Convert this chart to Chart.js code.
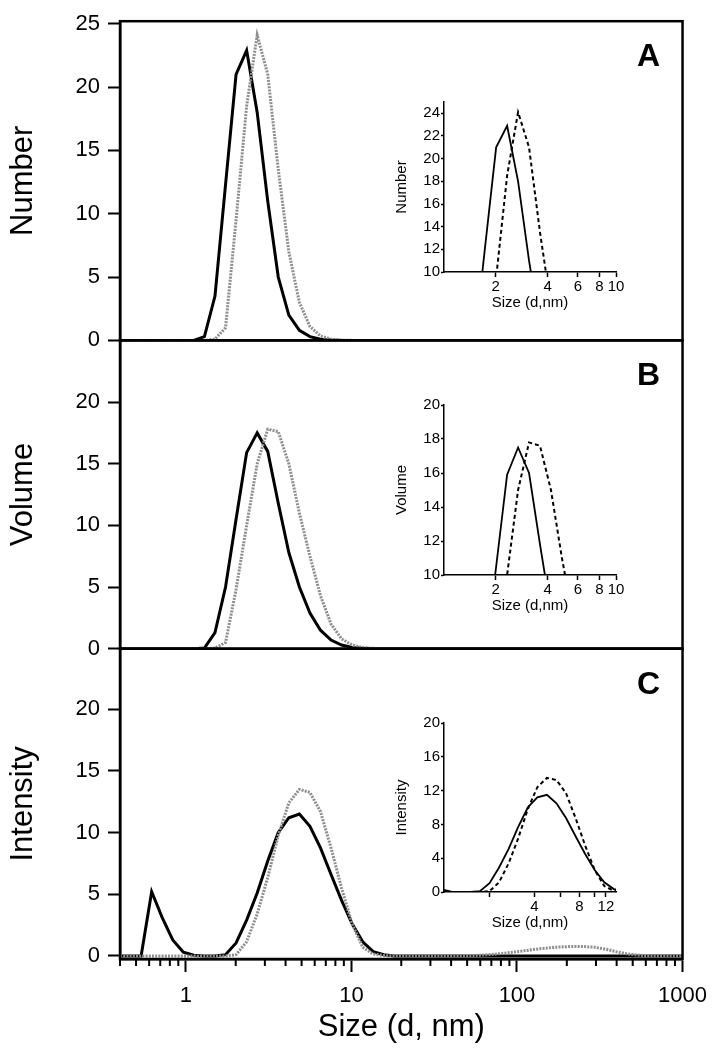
<!DOCTYPE html>
<html>
<head>
<meta charset="utf-8">
<script src="https://cdn.jsdelivr.net/npm/chart.js@4.4.1/dist/chart.umd.min.js"></script>
<style>
  body { margin: 0; background: #fff; }
  #wrap { position: relative; width: 718px; height: 1050px; }
  #wrap canvas { position: absolute; }
</style>
</head>
<body>
<div id="wrap">
  <canvas id="mainChart" width="718" height="1050" style="left:0;top:0"></canvas>
  <canvas id="insetA" width="242" height="226" style="left:384px;top:92px"></canvas>
  <canvas id="insetB" width="242" height="226" style="left:384px;top:395px"></canvas>
  <canvas id="insetC" width="242" height="225" style="left:384px;top:713px"></canvas>
</div>
<script>
// Size bins (d, nm)
const sizes = [
  0.4, 0.4632, 0.5365, 0.6213, 0.7195, 0.8332, 0.9649, 1.117, 1.294, 1.499,
  1.736, 2.01, 2.328, 2.696, 3.122, 3.615, 4.187, 4.849, 5.615, 6.503,
  7.531, 8.721, 10.1, 11.7, 13.54, 15.69, 18.17, 21.04, 24.36, 28.21,
  32.67, 37.84, 43.82, 50.75, 58.77, 68.06, 78.82, 91.28, 105.7, 122.4,
  141.8, 164.2, 190.1, 220.2, 255, 295.3, 342, 396.1, 458.7, 531.2,
  615.1, 712.4, 825, 955.4, 1106
];

// Panel A - Number
const numberSolid = [
  0, 0, 0, 0, 0, 0, 0, 0, 0.3, 3.5,
  12.3, 21.0, 22.9, 18.0, 11.0, 5.0, 2.0, 0.8, 0.3, 0.1,
  0.03, 0, 0, 0, 0, 0, 0, 0, 0, 0,
  0, 0, 0, 0, 0, 0, 0, 0, 0, 0,
  0, 0, 0, 0, 0, 0, 0, 0, 0, 0,
  0, 0, 0, 0, 0
];
const numberDotted = [
  0, 0, 0, 0, 0, 0, 0, 0, 0, 0.1,
  1.0, 9.5, 18.5, 24.1, 21.0, 13.5, 7.0, 3.0, 1.1, 0.35,
  0.1, 0.03, 0, 0, 0, 0, 0, 0, 0, 0,
  0, 0, 0, 0, 0, 0, 0, 0, 0, 0,
  0, 0, 0, 0, 0, 0, 0, 0, 0, 0,
  0, 0, 0, 0, 0
];

// Panel B - Volume
const volumeSolid = [
  0, 0, 0, 0, 0, 0, 0, 0, 0.05, 1.3,
  5.0, 10.5, 15.9, 17.5, 16.0, 11.8, 7.8, 5.0, 2.9, 1.5,
  0.7, 0.3, 0.1, 0.03, 0, 0, 0, 0, 0, 0,
  0, 0, 0, 0, 0, 0, 0, 0, 0, 0,
  0, 0, 0, 0, 0, 0, 0, 0, 0, 0,
  0, 0, 0, 0, 0
];
const volumeDotted = [
  0, 0, 0, 0, 0, 0, 0, 0, 0, 0.05,
  0.5, 4.8, 10.0, 15.0, 17.8, 17.6, 15.0, 11.0, 7.5, 4.3,
  2.0, 0.8, 0.3, 0.1, 0.03, 0, 0, 0, 0, 0,
  0, 0, 0, 0, 0, 0, 0, 0, 0, 0,
  0, 0, 0, 0, 0, 0, 0, 0, 0, 0,
  0, 0, 0, 0, 0
];

// Panel C - Intensity
const intensitySolid = [
  0, 0, 0, 5.2, 3.1, 1.3, 0.3, 0.05, 0, 0,
  0.1, 1.05, 2.9, 5.1, 7.7, 10.0, 11.2, 11.5, 10.5, 8.75,
  6.6, 4.5, 2.6, 1.15, 0.35, 0.1, 0, 0, 0, 0,
  0, 0, 0, 0, 0, 0, 0, 0, 0, 0,
  0, 0, 0, 0, 0, 0, 0, 0, 0, 0,
  0, 0, 0, 0, 0
];
const intensityDotted = [
  0, 0, 0, 0, 0, 0, 0, 0, 0, 0,
  0, 0.1, 1.15, 3.4, 6.35, 9.8, 12.4, 13.5, 13.25, 11.7,
  8.75, 5.5, 2.6, 0.7, 0.15, 0.03, 0, 0, 0, 0,
  0, 0, 0, 0.02, 0.05, 0.1, 0.18, 0.28, 0.38, 0.5,
  0.6, 0.68, 0.74, 0.77, 0.76, 0.7, 0.55, 0.35, 0.18, 0.07,
  0.02, 0, 0, 0, 0
];

// Ticks
const mainXTicks = [1, 10, 100, 1000];
const mainXMinorTicks = [
  0.4, 0.5, 0.6, 0.7, 0.8, 0.9,
  2, 3, 4, 5, 6, 7, 8, 9,
  20, 30, 40, 50, 60, 70, 80, 90,
  200, 300, 400, 500, 600, 700, 800, 900
];
const numberTicks = [0, 5, 10, 15, 20, 25];
const volumeTicks = [0, 5, 10, 15, 20];
const intensityTicks = [0, 5, 10, 15, 20];
const panelLetters = ["A", "B", "C"];

const insetXTicksAB = [2, 4, 6, 8, 10];
const insetXTicksC = [2, 4, 6, 8, 10, 12];
const insetXLabelsC = [4, 8, 12];
const insetYTicksA = [10, 12, 14, 16, 18, 20, 22, 24];
const insetYTicksB = [10, 12, 14, 16, 18, 20];
const insetYTicksC = [0, 2, 4, 6, 8, 10, 12, 14, 16, 18, 20];
const insetYLabelsC = [0, 4, 8, 12, 16, 20];

const FONT = "'Liberation Sans', Arial, Helvetica, sans-serif";
Chart.defaults.font.family = FONT;
Chart.defaults.color = "#000";

function toPoints(values) {
  return sizes.map((x, i) => ({ x: x, y: values[i] }));
}

// Linha do gráfico principal
function mainLine(values, yAxisID, dotted) {
  return {
    data: toPoints(values),
    yAxisID: yAxisID,
    borderColor: dotted ? "#8e8e8e" : "#000",
    borderWidth: 3,
    borderDash: dotted ? [2, 1.2] : [],
    pointRadius: 0,
    tension: 0,
    fill: false,
  };
}

function panelAxis(title, min, max, ticks, weight) {
  return {
    type: "linear",
    position: "left",
    stack: "panels",
    stackWeight: weight,
    min: min,
    max: max,
    afterBuildTicks: (s) => {
      s.ticks = ticks.map((v) => ({ value: v }));
    },
    afterFit: (s) => {
      s.width = 120;
    },
    border: { display: true, color: "#000", width: 2.5 },
    grid: { drawOnChartArea: false, tickLength: 12, tickWidth: 2, tickColor: "#000" },
    ticks: { padding: 8, font: { size: 22 }, color: "#000" },
    title: { display: true, text: title, font: { size: 31 }, padding: { top: 5, bottom: 0 } },
  };
}

// Molduras dos painéis, letras e ticks menores do eixo x
const panelFrames = {
  id: "panelFrames",
  afterDraw(chart) {
    const { ctx, chartArea } = chart;
    ctx.save();
    ctx.strokeStyle = "#000";
    ctx.fillStyle = "#000";
    ctx.lineWidth = 2.5;
    ["yA", "yB", "yC"].forEach((id, i) => {
      const s = chart.scales[id];
      ctx.strokeRect(chartArea.left, s.top, chartArea.right - chartArea.left, s.bottom - s.top);
      ctx.font = "bold 32px " + FONT;
      ctx.textAlign = "center";
      ctx.textBaseline = "middle";
      ctx.fillText(panelLetters[i], chartArea.right - 34, s.top + 36);
    });
    const x = chart.scales.x;
    ctx.lineWidth = 2;
    mainXMinorTicks.forEach((v) => {
      const px = x.getPixelForValue(v);
      ctx.beginPath();
      ctx.moveTo(px, chartArea.bottom);
      ctx.lineTo(px, chartArea.bottom + 7);
      ctx.stroke();
    });
    ctx.restore();
  },
};

new Chart(document.getElementById("mainChart"), {
  type: "line",
  data: {
    datasets: [
      mainLine(numberDotted, "yA", true),
      mainLine(numberSolid, "yA", false),
      mainLine(volumeDotted, "yB", true),
      mainLine(volumeSolid, "yB", false),
      mainLine(intensityDotted, "yC", true),
      mainLine(intensitySolid, "yC", false),
    ],
  },
  options: {
    responsive: false,
    animation: false,
    layout: { padding: { top: 13, right: 33, left: 0, bottom: 0 } },
    plugins: { legend: { display: false }, tooltip: { enabled: false } },
    scales: {
      x: {
        type: "logarithmic",
        position: "bottom",
        min: 0.4,
        max: 1000,
        afterBuildTicks: (s) => {
          s.ticks = mainXTicks.map((v) => ({ value: v }));
        },
        afterFit: (s) => {
          s.height = 91;
        },
        border: { color: "#000", width: 2.5 },
        grid: { drawOnChartArea: false, tickLength: 13, tickWidth: 2, tickColor: "#000" },
        ticks: { autoSkip: false, maxRotation: 0, padding: 11, font: { size: 22 }, callback: (v) => String(v) },
        title: { display: true, text: "Size (d, nm)", font: { size: 31 }, padding: { top: 0, bottom: 4 } },
      },
      yC: panelAxis("Intensity", -0.25, 24.9, intensityTicks, 313),
      yB: panelAxis("Volume", 0, 25, volumeTicks, 311),
      yA: panelAxis("Number", 0, 25.2, numberTicks, 322),
    },
  },
  plugins: [panelFrames],
});

// Gráficos inseridos (zoom)
function insetChart(id, cfg) {
  new Chart(document.getElementById(id), {
    type: "line",
    data: {
      datasets: [
        {
          data: toPoints(cfg.solid),
          borderColor: "#000",
          borderWidth: 1.8,
          pointRadius: 0,
          tension: 0,
        },
        {
          data: toPoints(cfg.dashed),
          borderColor: "#000",
          borderWidth: 2,
          borderDash: [4, 3],
          pointRadius: 0,
          tension: 0,
        },
      ],
    },
    options: {
      responsive: false,
      animation: false,
      layout: { padding: { top: 10, right: 10, left: 0, bottom: 0 } },
      plugins: { legend: { display: false }, tooltip: { enabled: false } },
      scales: {
        x: {
          type: "logarithmic",
          min: cfg.xMin,
          max: cfg.xMax,
          afterBuildTicks: (s) => {
            s.ticks = cfg.xTicks.map((v) => ({ value: v }));
          },
          afterFit: (s) => {
            s.height = 46;
          },
          border: { color: "#000", width: 1.5 },
          grid: { drawOnChartArea: false, tickLength: 5, tickWidth: 1.5, tickColor: "#000" },
          ticks: {
            autoSkip: false,
            maxRotation: 0,
            padding: 1,
            font: { size: 15 },
            callback: (v) => (cfg.xLabels.includes(v) ? String(v) : ""),
          },
          title: { display: true, text: "Size (d,nm)", font: { size: 15 }, padding: { top: 0, bottom: 6 } },
        },
        y: {
          type: "linear",
          min: cfg.yMin,
          max: cfg.yMax,
          afterBuildTicks: (s) => {
            s.ticks = cfg.yTicks.map((v) => ({ value: v }));
          },
          afterFit: (s) => {
            s.width = 60;
          },
          border: { color: "#000", width: 1.5 },
          grid: { drawOnChartArea: false, tickLength: 3, tickWidth: 1.5, tickColor: "#000" },
          ticks: {
            padding: 1,
            font: { size: 15 },
            callback: (v) => (cfg.yLabels.includes(v) ? String(v) : ""),
          },
          title: { display: true, text: cfg.title, font: { size: 15 }, padding: { top: 9, bottom: 0 } },
        },
      },
    },
  });
}

insetChart("insetA", {
  title: "Number", solid: numberSolid, dashed: numberDotted,
  xMin: 1, xMax: 10, xTicks: insetXTicksAB, xLabels: insetXTicksAB,
  yMin: 10, yMax: 25, yTicks: insetYTicksA, yLabels: insetYTicksA,
});
insetChart("insetB", {
  title: "Volume", solid: volumeSolid, dashed: volumeDotted,
  xMin: 1, xMax: 10, xTicks: insetXTicksAB, xLabels: insetXTicksAB,
  yMin: 10, yMax: 20, yTicks: insetYTicksB, yLabels: insetYTicksB,
});
insetChart("insetC", {
  title: "Intensity", solid: intensitySolid, dashed: intensityDotted,
  xMin: 1, xMax: 14, xTicks: insetXTicksC, xLabels: insetXLabelsC,
  yMin: 0, yMax: 20, yTicks: insetYTicksC, yLabels: insetYLabelsC,
});
</script>
</body>
</html>
